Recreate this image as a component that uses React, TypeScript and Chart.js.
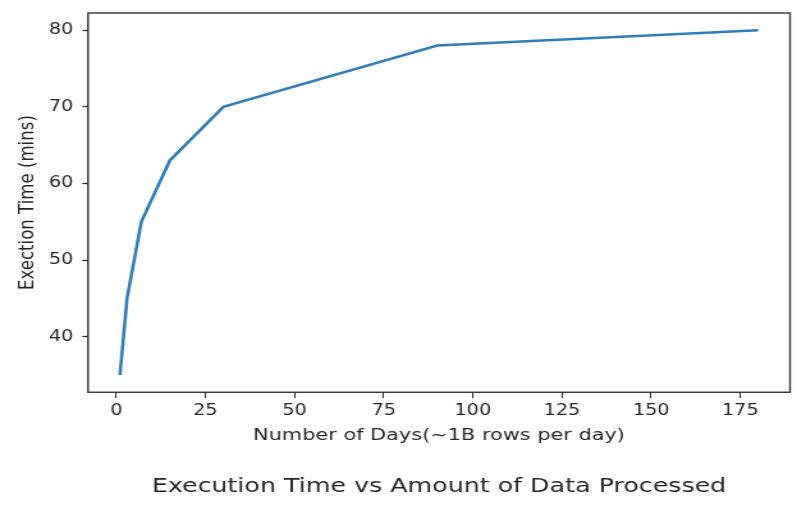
import React, { useEffect, useRef } from "react";
import { Chart, registerables } from "chart.js";

Chart.register(...registerables);

const days = [1, 3, 7, 15, 30, 90, 180];
const minutes = [35, 45, 55, 63, 70, 78, 80];
const xTicks = [0, 25, 50, 75, 100, 125, 150, 175];
const yTicks = [40, 50, 60, 70, 80];

const chartTitle = "Execution Time vs Amount of Data Processed";
const xTitle = "Number of Days(~1B rows per day)";
const yTitle = "Exection Time (mins)";

const FONT = "'DejaVu Sans', sans-serif";
const INK = "#262626";

// The reference figure is horizontally stretched; render at a narrower
// internal width and stretch the canvas to 806px with CSS.
const VIEW_W = 806;
const VIEW_H = 510;
const INNER_W = 630;

const framePlugin = {
  id: "frameBox",
  afterDatasetsDraw(chart: any) {
    const { ctx, chartArea } = chart;
    ctx.save();
    ctx.strokeStyle = "#333";
    ctx.lineWidth = 1.4;
    ctx.strokeRect(chartArea.left, chartArea.top, chartArea.right - chartArea.left, chartArea.bottom - chartArea.top);
    ctx.restore();
  },
};

export default function App() {
  const ref = useRef<HTMLCanvasElement | null>(null);

  useEffect(() => {
    if (!ref.current) return;
    const xSpan = days[days.length - 1] - days[0];
    const xMin = days[0] - xSpan * 0.05;
    const xMax = days[days.length - 1] + xSpan * 0.05;
    const ySpan = Math.max(...minutes) - Math.min(...minutes);
    const yMin = Math.min(...minutes) - ySpan * 0.05;
    const yMax = Math.max(...minutes) + ySpan * 0.05;

    const chart = new Chart(ref.current, {
      type: "line",
      data: {
        datasets: [
          {
            data: days.map((d, i) => ({ x: d, y: minutes[i] })),
            borderColor: "#2f7ebc",
            borderWidth: 2.6,
            pointRadius: 0,
            fill: false,
            tension: 0,
          },
        ],
      },
      options: {
        animation: false,
        responsive: false,
        devicePixelRatio: 1,
        layout: { padding: { left: 0, top: 13, right: 12.5, bottom: 0 } },
        plugins: {
          legend: { display: false },
          tooltip: { enabled: false },
          title: {
            display: true,
            position: "bottom",
            fullSize: false,
            text: chartTitle,
            color: INK,
            font: { family: FONT, size: 19.8, weight: "normal" },
            padding: { top: 0, bottom: 11 },
          },
        },
        scales: {
          x: {
            type: "linear",
            min: xMin,
            max: xMax,
            afterBuildTicks: (scale: any) => {
              scale.ticks = xTicks.map((v) => ({ value: v }));
            },
            afterFit: (scale: any) => {
              scale.height = 83;
              scale.paddingLeft = 0;
              scale.paddingRight = 0;
            },
            border: { display: false },
            grid: {
              display: true,
              drawOnChartArea: false,
              drawTicks: true,
              tickLength: 6,
              tickColor: "#333",
              tickWidth: 1.1,
            },
            ticks: {
              autoSkip: false,
              maxRotation: 0,
              padding: 4,
              color: INK,
              font: { family: FONT, size: 15 },
              callback: (v: any) => String(v),
            },
            title: {
              display: true,
              text: xTitle,
              color: INK,
              font: { family: FONT, size: 16.3 },
              padding: { top: 0, bottom: 30 },
            },
          },
          y: {
            type: "linear",
            min: yMin,
            max: yMax,
            afterBuildTicks: (scale: any) => {
              scale.ticks = yTicks.map((v) => ({ value: v }));
            },
            afterFit: (scale: any) => {
              scale.width = 68.8;
              scale.paddingTop = 0;
              scale.paddingBottom = 0;
            },
            border: { display: false },
            grid: {
              display: true,
              drawOnChartArea: false,
              drawTicks: true,
              tickLength: 4.5,
              tickColor: "#333",
              tickWidth: 1.3,
            },
            ticks: {
              autoSkip: false,
              padding: 7,
              color: INK,
              font: { family: FONT, size: 15 },
              callback: (v: any) => String(v),
            },
            title: {
              display: true,
              text: yTitle,
              color: INK,
              font: { family: FONT, size: 16.6 },
              padding: { top: 12, bottom: 0 },
            },
          },
        },
      },
      plugins: [framePlugin],
    });
    return () => chart.destroy();
  }, []);

  return (
    <div style={{ position: "absolute", left: 0, top: 0, width: VIEW_W, height: VIEW_H, background: "#fff" }}>
      <canvas ref={ref} width={INNER_W} height={VIEW_H} style={{ width: VIEW_W, height: VIEW_H, display: "block" }} />
    </div>
  );
}
